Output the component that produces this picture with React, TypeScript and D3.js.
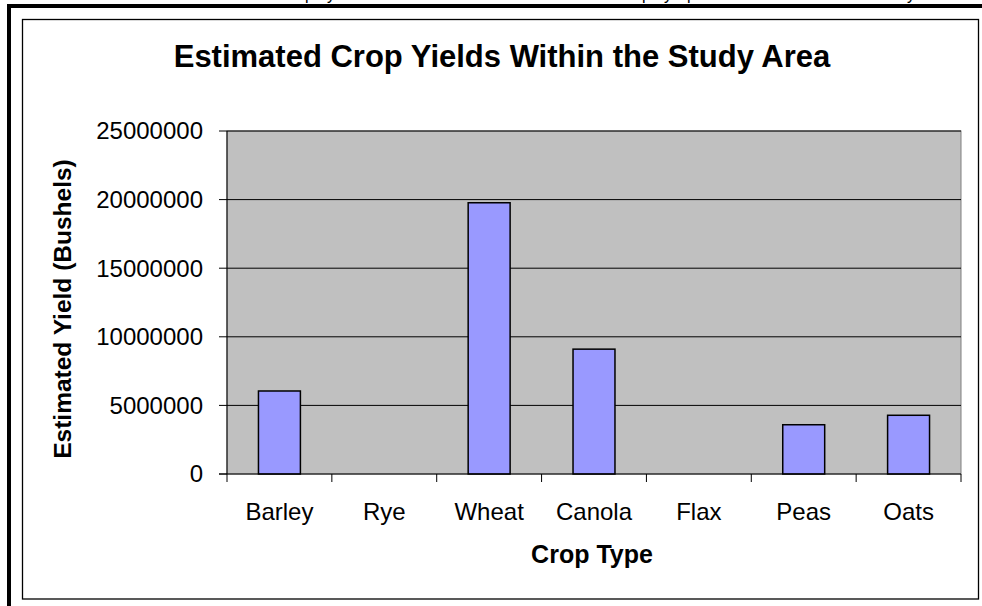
import React from "react";
import * as d3 from "d3";

const categories = ["Barley", "Rye", "Wheat", "Canola", "Flax", "Peas", "Oats"];
const yields = [6050000, 0, 19770000, 9100000, 0, 3590000, 4280000];
const yTicks = [0, 5000000, 10000000, 15000000, 20000000, 25000000];
const clippedGlyphs = [
  { ch: "p", x: 305 },
  { ch: "y", x: 327 },
  { ch: "p", x: 642 },
  { ch: "y", x: 664 },
  { ch: "p", x: 687 },
  { ch: "y", x: 907 },
];

const W = 982;
const H = 606;
const plot = { left: 227, right: 961, top: 131, bottom: 474 };
const FONT = "'Liberation Sans', Arial, Helvetica, sans-serif";

export default function App() {
  const x = d3
    .scaleBand<string>()
    .domain(categories)
    .range([plot.left, plot.right])
    .paddingInner(0.6)
    .paddingOuter(0.3);
  const y = d3.scaleLinear().domain([0, 25000000]).range([plot.bottom, plot.top]);
  const fmt = d3.format("d");
  const step = x.step();

  return (
    <svg
      width={W}
      height={H}
      style={{ position: "absolute", left: 0, top: 0, background: "#fff" }}
      fontFamily={FONT}
    >
      <rect x={0} y={0} width={W} height={H} fill="#fff" />
      {clippedGlyphs.map((g, i) => (
        <text key={i} x={g.x} y={0} fontSize={16} fill="#000">
          {g.ch}
        </text>
      ))}
      {/* thick outer frame */}
      <rect x={7} y={4} width={W - 7} height={4} fill="#000" />
      <rect x={7} y={4} width={4} height={H - 4} fill="#000" />
      {/* chart area border */}
      <rect x={22.5} y={19.5} width={956} height={579.5} fill="#fff" stroke="#000" strokeWidth={1.3} />

      {/* plot area */}
      <rect
        x={plot.left}
        y={plot.top}
        width={plot.right - plot.left}
        height={plot.bottom - plot.top}
        fill="#C0C0C0"
        stroke="#808080"
        strokeWidth={1}
      />
      {yTicks.filter((t) => t > 0).map((t) => (
        <line key={t} x1={plot.left} x2={plot.right} y1={y(t)} y2={y(t)} stroke="#000" strokeWidth={1} />
      ))}

      {/* bars */}
      {categories.map((c, i) =>
        yields[i] > 0 ? (
          <rect
            key={c}
            x={x(c)}
            y={y(yields[i])}
            width={x.bandwidth()}
            height={y(0) - y(yields[i])}
            fill="#9999FF"
            stroke="#000"
            strokeWidth={1.5}
          />
        ) : null
      )}

      {/* y axis */}
      <line x1={plot.left} x2={plot.left} y1={plot.top} y2={plot.bottom + 8} stroke="#000" strokeWidth={1} />
      {yTicks.map((t) => (
        <g key={t}>
          <line x1={plot.left - 8} x2={plot.left} y1={y(t)} y2={y(t)} stroke="#000" strokeWidth={1} />
          <text x={plot.left - 24} y={y(t)} dy="0.35em" textAnchor="end" fontSize={24} fill="#000">
            {fmt(t)}
          </text>
        </g>
      ))}

      {/* x axis */}
      <line x1={plot.left - 8} x2={plot.right} y1={plot.bottom} y2={plot.bottom} stroke="#000" strokeWidth={1} />
      {categories.map((c, i) => (
        <line
          key={"t" + c}
          x1={plot.left + step * (i + 1)}
          x2={plot.left + step * (i + 1)}
          y1={plot.bottom}
          y2={plot.bottom + 8}
          stroke="#000"
          strokeWidth={1}
        />
      ))}
      {categories.map((c) => (
        <text
          key={"l" + c}
          x={(x(c) as number) + x.bandwidth() / 2}
          y={520}
          textAnchor="middle"
          fontSize={24}
          fill="#000"
        >
          {c}
        </text>
      ))}

      {/* titles */}
      <text x={502} y={67} textAnchor="middle" fontSize={31} fontWeight="bold" fill="#000">
        Estimated Crop Yields Within the Study Area
      </text>
      <text x={592} y={563} textAnchor="middle" fontSize={25} fontWeight="bold" fill="#000">
        Crop Type
      </text>
      <text
        transform={`translate(71, 309) rotate(-90)`}
        textAnchor="middle"
        fontSize={24.5}
        fontWeight="bold"
        fill="#000"
      >
        Estimated Yield (Bushels)
      </text>
    </svg>
  );
}
